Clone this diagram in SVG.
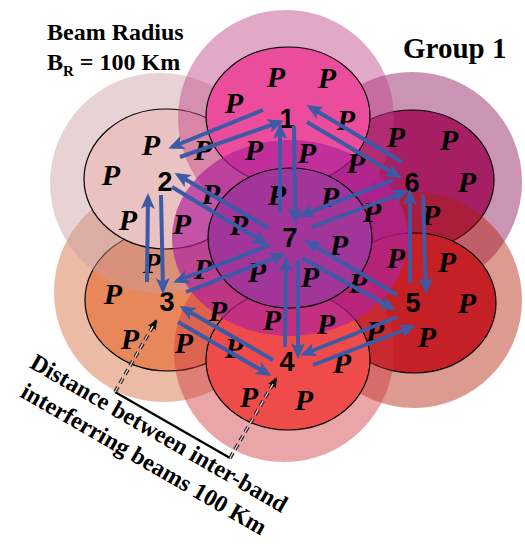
<svg xmlns="http://www.w3.org/2000/svg" width="525" height="544" viewBox="0 0 525 544">
<defs>
<marker id="ah" markerUnits="userSpaceOnUse" markerWidth="18" markerHeight="16" refX="12" refY="7" orient="auto">
<path d="M0,0 L16,7 L0,14 L4,7 Z" fill="#3c5aa6"/>
</marker>
<marker id="bh" markerUnits="userSpaceOnUse" markerWidth="12" markerHeight="10" refX="8" refY="4.5" orient="auto">
<path d="M0,0 L10,4.5 L0,9 Z" fill="#111"/>
</marker>
<style>
.cell{stroke:#000;stroke-width:1.2}
.halo{opacity:0.45}
.p{font-family:"Liberation Serif","Times New Roman",serif;font-weight:bold;font-style:italic;font-size:30px;fill:#000;text-anchor:middle}
.n{font-family:"Liberation Sans",Arial,sans-serif;font-weight:bold;font-size:27px;text-anchor:middle;fill:#000}
.ar{stroke:#3c5aa6;stroke-width:4;fill:none;marker-end:url(#ah)}
.lbl{font-family:"Liberation Serif","Times New Roman",serif;font-weight:bold;fill:#000}
.dd{stroke:#222;stroke-width:3.6;stroke-dasharray:6 4;fill:none}
.ddw{stroke:#f2e0e0;stroke-width:1.2;stroke-dasharray:6 4;fill:none}
</style>
</defs>

<g id="cell6">
<circle class="halo" cx="412" cy="182" r="110" fill="#8e1158"/>
<ellipse class="cell" cx="412" cy="180" rx="82" ry="70" fill="#a61e64"/>
<text class="n" x="412" y="192">6</text>
</g>
<g id="cell5">
<circle class="halo" cx="414" cy="300" r="108" fill="#b11f08"/>
<ellipse class="cell" cx="414" cy="303" rx="82" ry="70" fill="#c42026"/>
<text class="n" x="413" y="312">5</text>
</g>
<g id="cell3">
<circle class="halo" cx="164" cy="292" r="110" fill="#d26837"/>
<ellipse class="cell" cx="168" cy="300" rx="83" ry="71" fill="#e8875a"/>
<text class="n" x="167" y="311">3</text>
</g>
<g id="cell4">
<circle class="halo" cx="284" cy="352" r="110" fill="#ce373e"/>
<ellipse class="cell" cx="288" cy="360" rx="82" ry="70" fill="#f04b4b"/>
<text class="n" x="287" y="371">4</text>
</g>
<g id="cell2">
<circle class="halo" cx="160" cy="183" r="110" fill="#ca9da2"/>
<ellipse class="cell" cx="166" cy="179" rx="82" ry="70" fill="#ebc2c2"/>
<text class="n" x="165" y="191">2</text>
</g>
<g id="cell1">
<circle class="halo" cx="286" cy="118" r="108" fill="#bf3e85"/>
<ellipse class="cell" cx="288" cy="116" rx="82" ry="69" fill="#ec4c9c"/>
<text class="n" x="287" y="128">1</text>
</g>
<g id="cell7">
<ellipse cx="290" cy="238" rx="118" ry="98" fill="#b0249a" opacity="0.7"/>
<ellipse class="cell" cx="290" cy="238" rx="82" ry="70" fill="#a1359a"/>
<text class="n" x="290" y="247">7</text>
</g>

<g id="pilots">
<text class="p" x="276" y="87">P</text>
<text class="p" x="327" y="88">P</text>
<text class="p" x="234" y="113">P</text>
<text class="p" x="346" y="130">P</text>
<text class="p" x="254" y="160">P</text>
<text class="p" x="307" y="163">P</text>
<text class="p" x="356" y="173">P</text>
<text class="p" x="151" y="155">P</text>
<text class="p" x="203" y="160">P</text>
<text class="p" x="111" y="185">P</text>
<text class="p" x="211" y="204">P</text>
<text class="p" x="128" y="230">P</text>
<text class="p" x="182" y="234">P</text>
<text class="p" x="152" y="273">P</text>
<text class="p" x="203" y="279">P</text>
<text class="p" x="113" y="304">P</text>
<text class="p" x="218" y="321">P</text>
<text class="p" x="130" y="349">P</text>
<text class="p" x="184" y="353">P</text>
<text class="p" x="234" y="358">P</text>
<text class="p" x="272" y="330">P</text>
<text class="p" x="326" y="334">P</text>
<text class="p" x="375" y="341">P</text>
<text class="p" x="342" y="373">P</text>
<text class="p" x="249" y="407">P</text>
<text class="p" x="304" y="410">P</text>
<text class="p" x="277" y="205">P</text>
<text class="p" x="330" y="207">P</text>
<text class="p" x="372" y="222">P</text>
<text class="p" x="239" y="235">P</text>
<text class="p" x="339" y="255">P</text>
<text class="p" x="257" y="282">P</text>
<text class="p" x="310" y="287">P</text>
<text class="p" x="358" y="293">P</text>
<text class="p" x="396" y="147">P</text>
<text class="p" x="449" y="150">P</text>
<text class="p" x="467" y="192">P</text>
<text class="p" x="431" y="225">P</text>
<text class="p" x="396" y="268">P</text>
<text class="p" x="447" y="272">P</text>
<text class="p" x="467" y="313">P</text>
<text class="p" x="427" y="347">P</text>
</g>

<g id="connectors">
<line class="ar" x1="263" y1="110" x2="172" y2="147"/>
<line class="ar" x1="180" y1="157" x2="280" y2="122"/>
<line class="ar" x1="280" y1="213" x2="280" y2="127"/>
<line class="ar" x1="294" y1="126" x2="295" y2="220"/>
<line class="ar" x1="402" y1="162" x2="310" y2="107"/>
<line class="ar" x1="307" y1="122" x2="398" y2="176"/>
<line class="ar" x1="268" y1="228" x2="178" y2="175"/>
<line class="ar" x1="172" y1="187" x2="265" y2="243"/>
<line class="ar" x1="147" y1="282" x2="148" y2="197"/>
<line class="ar" x1="161" y1="195" x2="163" y2="290"/>
<line class="ar" x1="270" y1="245" x2="177" y2="281"/>
<line class="ar" x1="186" y1="292" x2="282" y2="255"/>
<line class="ar" x1="273" y1="360" x2="183" y2="308"/>
<line class="ar" x1="178" y1="322" x2="268" y2="374"/>
<line class="ar" x1="285" y1="347" x2="286" y2="260"/>
<line class="ar" x1="298" y1="260" x2="298" y2="355"/>
<line class="ar" x1="397" y1="317" x2="304" y2="354"/>
<line class="ar" x1="313" y1="365" x2="412" y2="327"/>
<line class="ar" x1="302" y1="258" x2="392" y2="308"/>
<line class="ar" x1="397" y1="295" x2="308" y2="242"/>
<line class="ar" x1="423" y1="195" x2="426" y2="290"/>
<line class="ar" x1="410" y1="283" x2="410" y2="193"/>
<line class="ar" x1="312" y1="227" x2="405" y2="192"/>
<line class="ar" x1="393" y1="180" x2="302" y2="215"/>
</g>

<g id="dimension">
<line x1="115" y1="392" x2="230" y2="458" stroke="#000" stroke-width="2.2"/>
<line class="dd" x1="115" y1="392" x2="156" y2="321" marker-end="url(#bh)"/>
<line class="ddw" x1="115" y1="392" x2="153" y2="326"/>
<line class="dd" x1="230" y1="458" x2="276" y2="379" marker-end="url(#bh)"/>
<line class="ddw" x1="230" y1="458" x2="273" y2="384"/>
</g>

<g id="labels">
<text class="lbl" font-size="24" x="47" y="40">Beam Radius</text>
<text class="lbl" font-size="24" x="47" y="70">B<tspan font-size="15" dy="6">R</tspan><tspan dy="-6"> = 100 Km</tspan></text>
<text class="lbl" font-size="29" x="403" y="58">Group 1</text>
<g transform="translate(155,440) rotate(30)">
<text class="lbl" font-size="24" text-anchor="middle" x="0" y="0">Distance between inter-band</text>
<text class="lbl" font-size="24" text-anchor="middle" x="0" y="30">interferring beams 100 Km</text>
</g>
</g>
</svg>
